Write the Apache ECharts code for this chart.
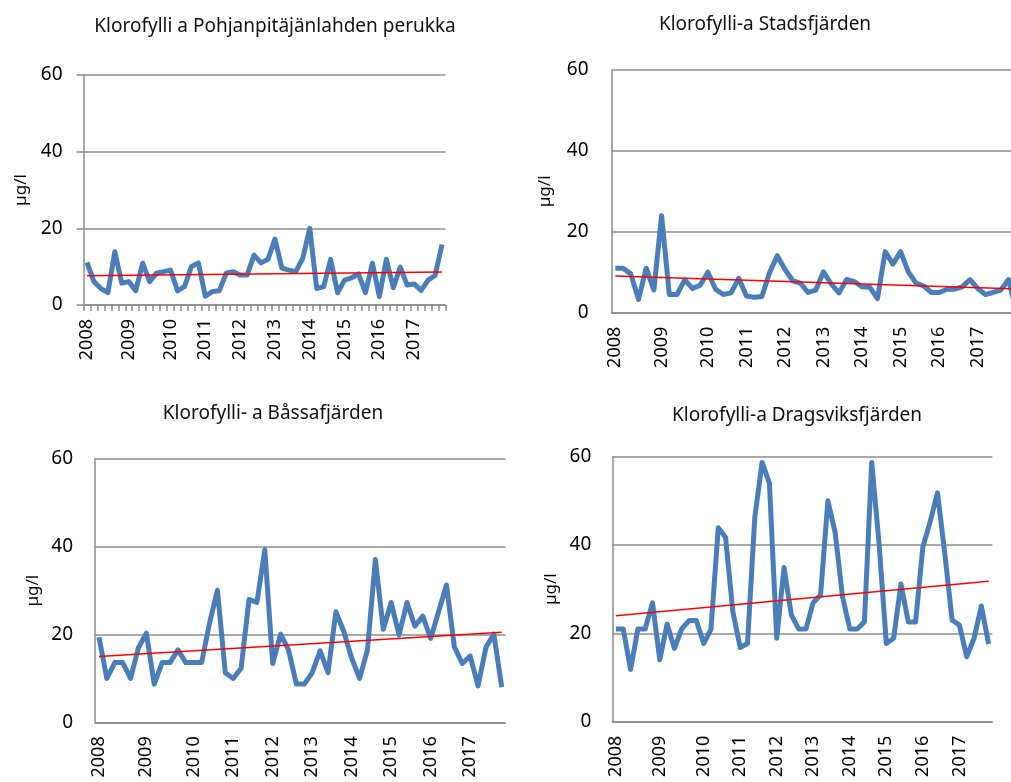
<!DOCTYPE html>
<html>
<head>
<meta charset="utf-8">
<script src="https://cdn.jsdelivr.net/npm/echarts@6/dist/echarts.min.js"></script>
<style>
html,body{margin:0;padding:0;background:#fff;}
#c{width:1011px;height:782px;}
</style>
</head>
<body>
<div id="c"></div>
<script>
// category labels: one entry per sample (52), year shown at the first sample of each year
const categories = ['2008','','','','','','2009','','','','','','2010','','','','','2011','','','','','2012','','','','','2013','','','','','2014','','','','','2015','','','','','2016','','','','','2017','','','',''];
// Stadsfjärden has one extra sample at the end (53)
const categories2 = ['2008','','','','','','2009','','','','','','2010','','','','','2011','','','','','2012','','','','','2013','','','','','2014','','','','','2015','','','','','2016','','','','','2017','','','','',''];

const titles = ['Klorofylli a Pohjanpitäjänlahden perukka','Klorofylli-a Stadsfjärden','Klorofylli- a Båssafjärden','Klorofylli-a Dragsviksfjärden'];
const yTicks = [0, 20, 40, 60];

const pohjanpitajanlahti = [11.1,6.1,4.3,3.2,13.9,5.7,6.1,3.7,10.9,6.1,8.3,8.7,9.1,3.7,4.8,10,11,2.3,3.5,3.7,8.3,8.7,7.8,7.8,13,11,11.9,17.2,9.6,9.1,8.7,12.2,20,4.3,4.8,11.9,3.2,6.5,7.1,8.1,3.2,10.9,2.2,11.9,4.5,9.9,5.2,5.5,3.8,6.5,7.7,15.8];
const stadsfjarden = [11,11,9.6,3.3,11,5.6,24,4.5,4.5,8.1,6,6.8,10,5.8,4.5,4.9,8.5,4.1,3.8,4,9.9,14.1,10.7,7.9,7.3,5,5.6,10.1,7.1,4.9,8.2,7.7,6.4,6.3,3.5,15.1,12,15.1,10.1,7.3,6.6,5,5,5.8,5.8,6.4,8.2,6,4.5,5,5.6,8.2,0.5];
const bassafjarden = [19.4,10,13.6,13.6,10,17,20.3,8.7,13.6,13.6,16.5,13.6,13.6,13.6,22.6,30.1,11.3,10,12.3,28,27.3,39.3,13.4,20.1,16.5,8.7,8.7,11.3,16.3,11.3,25.2,20.7,14.6,10,16.5,37.1,21.2,27.3,19.9,27.3,21.9,24.2,19.1,25.2,31.3,17.2,13.4,15.1,8.3,17.1,20.1,8];
const dragsviksfjarden = [21,21,11.8,21,21,26.9,14,22.1,16.6,21,22.9,22.9,17.7,20.9,43.9,41.7,24.9,16.8,17.7,46.3,58.7,54,18.9,34.9,24.2,21,21,27,28.7,50,42.8,28.3,21,21,22.6,58.7,40.4,17.7,18.9,31.2,22.6,22.6,39.6,45.3,51.8,38.1,23,21.9,14.7,18.9,26.2,17.6];

// trend line end values (first sample, last sample)
const trend1 = [7.6, 8.6];
const trend2 = [9.1, 5.9];
const trend3 = [15.0, 20.5];
const trend4 = [24.0, 31.8];

const FONT = 'Noto Sans';
const GRID_COLOR = '#8c8c8c';

function trendData(n, ends){
  const d = new Array(n).fill(null);
  d[0] = ends[0]; d[n-1] = ends[1];
  return d;
}

const panels = [
  {grid:{left:83.5, top:75, width:362, height:230}, cats:categories, data:pohjanpitajanlahti, trend:trend1, ticks:true, nameGap:54, lm:21},
  {grid:{left:611.5, top:70, width:408.6, height:242.7}, cats:categories2, data:stadsfjarden, trend:trend2, ticks:false, nameGap:58, lm:23},
  {grid:{left:95, top:459, width:410.7, height:263.3}, cats:categories, data:bassafjarden, trend:trend3, ticks:false, nameGap:53, lm:22},
  {grid:{left:612.3, top:456.7, width:380, height:265}, cats:categories, data:dragsviksfjarden, trend:trend4, ticks:false, nameGap:53, lm:21}
];

const titlePos = [[270,12],[760,10],[268,399],[792,401]];

const option = {
  animation:false,
  backgroundColor:'#fff',
  title: titles.map((t,i)=>({
    text:t, left:titlePos[i][0], top:titlePos[i][1], textAlign:'center',
    textStyle:{fontFamily:FONT, fontSize:19, fontWeight:'normal', color:'#111'}
  })),
  grid: panels.map(p=>Object.assign({containLabel:false, outerBoundsMode:'none'}, p.grid)),
  xAxis: panels.map((p,i)=>({
    type:'category', gridIndex:i, data:p.cats, boundaryGap:true,
    axisLine:{show:true, lineStyle:{color:GRID_COLOR, width:1.5}},
    axisTick:{show:p.ticks, interval:0, length:6, lineStyle:{color:GRID_COLOR, width:1.5}},
    axisLabel:{interval:0, rotate:90, margin:14, fontFamily:FONT, fontSize:18, color:'#000'},
    splitLine:{show:false}
  })),
  yAxis: panels.map((p,i)=>({
    type:'value', gridIndex:i, min:0, max:60, interval:20,
    name:'µg/l', nameLocation:'middle', nameRotate:90, nameGap:p.nameGap,
    nameTextStyle:{fontFamily:FONT, fontSize:17, color:'#000'},
    axisLine:{show:true, lineStyle:{color:GRID_COLOR, width:1.5}},
    axisTick:{show:p.ticks, length:7, lineStyle:{color:GRID_COLOR, width:1.5}},
    axisLabel:{margin:p.lm, fontFamily:FONT, fontSize:19, color:'#000',
      formatter:(v)=> yTicks.indexOf(v)>=0 ? String(v) : ''},
    splitLine:{show:true, lineStyle:{color:GRID_COLOR, width:1.5}}
  })),
  series: [].concat(...panels.map((p,i)=>[
    {type:'line', xAxisIndex:i, yAxisIndex:i, data:p.data, symbol:'none',
      lineStyle:{color:'#4a7ebb', width:5, join:'round'}, z:2, clip:true},
    {type:'line', xAxisIndex:i, yAxisIndex:i, data:trendData(p.data.length, p.trend), connectNulls:true, symbol:'none',
      lineStyle:{color:'#ff0000', width:1.5}, z:3}
  ]))
};

const chart = echarts.init(document.getElementById('c'), null, {renderer:'canvas'});
chart.setOption(option);
</script>
</body>
</html>
